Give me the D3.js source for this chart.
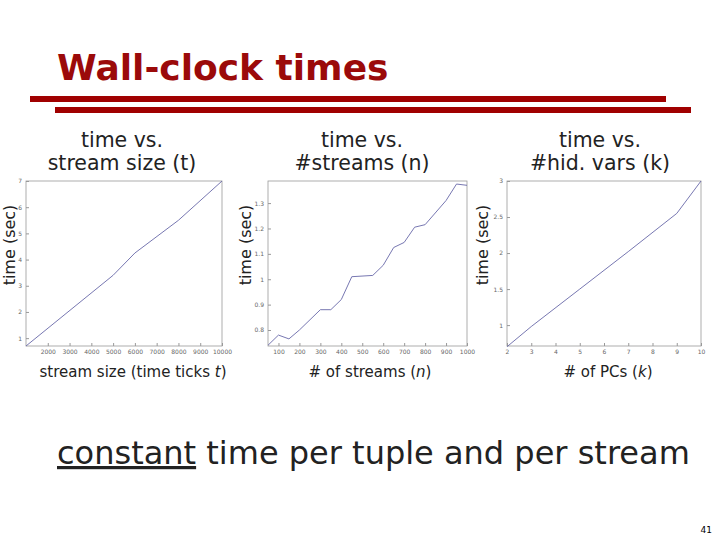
<!DOCTYPE html><html><head><meta charset="utf-8"><script src="https://cdn.jsdelivr.net/npm/d3@7"></script>
<style>body{margin:0;background:#fff}</style></head><body><svg id="s" width="720" height="540"></svg>
<script>
const c1x=[1000,5000,6000,8000,10000], c1y=[0.7,3.4,4.25,5.5,7];
const c2x=[50,100,150,200,300,350,400,450,550,600,650,700,750,800,900,950,1000];
const c2y=[0.74,0.78,0.765,0.8,0.88,0.88,0.92,1.01,1.015,1.055,1.125,1.145,1.205,1.215,1.31,1.375,1.37];
const c3x=[2,3,5,7,9,10], c3y=[0.7,0.98,1.5,2.02,2.55,3];
const c1xt=[2000,3000,4000,5000,6000,7000,8000,9000,10000], c1yt=[1,2,3,4,5,6,7];
const c2xt=[100,200,300,400,500,600,700,800,900,1000], c2yt=[0.8,0.9,1,1.1,1.2,1.3];
const c3xt=[2,3,4,5,6,7,8,9,10], c3yt=[1,1.5,2,2.5,3];
const svg=d3.select("#s"), F="DejaVu Sans, Verdana, sans-serif";
svg.append("text").attr("x",57).attr("y",80).attr("font-family",F).attr("font-weight","bold").attr("font-size",36).attr("fill","#9b0a0a").text("Wall-clock times");
svg.append("rect").attr("x",30).attr("y",96).attr("width",636).attr("height",6).attr("fill","#a00000");
svg.append("rect").attr("x",55).attr("y",107).attr("width",636).attr("height",6).attr("fill","#a00000");
const charts=[
 {x:c1x,y:c1y,xt:c1xt,yt:c1yt,xd:[1000,10000],yd:[0.7,7],L:26,R:222,t:["time vs.","stream size (t)"],tc:122,yl:9,xl:["stream size (time ticks ","t",")"],xc:133},
 {x:c2x,y:c2y,xt:c2xt,yt:c2yt,xd:[50,1000],yd:[0.737,1.387],L:268,R:467,t:["time vs.","#streams (n)"],tc:362,yl:245,xl:["# of streams (","n",")"],xc:370},
 {x:c3x,y:c3y,xt:c3xt,yt:c3yt,xd:[2,10],yd:[0.71,3],L:507,R:701,t:["time vs.","#hid. vars (k)"],tc:600,yl:482,xl:["# of PCs (","k",")"],xc:608}];
charts.forEach(c=>{
 const T=181,B=346;
 const xs=d3.scaleLinear().domain(c.xd).range([c.L,c.R]), ys=d3.scaleLinear().domain(c.yd).range([B,T]);
 const g=svg.append("g");
 g.append("rect").attr("x",c.L).attr("y",T).attr("width",c.R-c.L).attr("height",B-T).attr("fill","none").attr("stroke","#999").attr("stroke-width",0.8);
 const fm=d3.format("~g");
 const ax=g.append("g").attr("transform",`translate(0,${B})`).call(d3.axisBottom(xs).tickValues(c.xt).tickFormat(fm).tickSize(-3).tickPadding(4));
 const ay=g.append("g").attr("transform",`translate(${c.L},0)`).call(d3.axisLeft(ys).tickValues(c.yt).tickFormat(fm).tickSize(-3).tickPadding(4));
 [ax,ay].forEach(a=>{a.select(".domain").remove();a.selectAll("line").attr("stroke","#999");a.selectAll("text").attr("font-size",6).attr("fill","#666").attr("font-family",F);});
 g.append("path").datum(c.x.map((v,i)=>[v,c.y[i]])).attr("d",d3.line().x(d=>xs(d[0])).y(d=>ys(d[1]))).attr("fill","none").attr("stroke","#6868a8").attr("stroke-width",0.9);
 c.t.forEach((s,i)=>svg.append("text").attr("x",c.tc).attr("y",147+i*23).attr("text-anchor","middle").attr("font-family",F).attr("font-size",20.5).attr("fill","#222").text(s));
 svg.append("text").attr("transform",`translate(${c.yl+6},${245}) rotate(-90)`).attr("text-anchor","middle").attr("font-family",F).attr("font-size",16).attr("fill","#222").text("time (sec)");
 const xt=svg.append("text").attr("x",c.xc).attr("y",377).attr("text-anchor","middle").attr("font-family",F).attr("font-size",15).attr("fill","#222");
 xt.append("tspan").text(c.xl[0]);xt.append("tspan").attr("font-style","italic").text(c.xl[1]);xt.append("tspan").text(c.xl[2]);
});
const bt=svg.append("text").attr("x",57).attr("y",464).attr("font-family",F).attr("font-size",32).attr("fill","#222");
bt.append("tspan").attr("text-decoration","underline").text("constant");bt.append("tspan").text(" time per tuple and per stream");
svg.append("text").attr("x",712).attr("y",533).attr("text-anchor","end").attr("font-family",F).attr("font-size",9).text("41");
</script></body></html>
